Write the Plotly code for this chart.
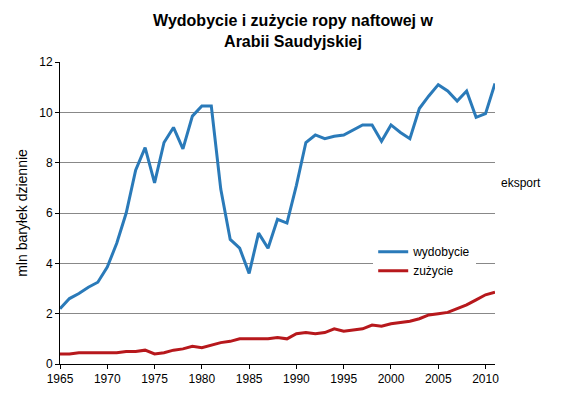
import plotly.graph_objects as go

years = list(range(1965, 2012))
wydobycie = [2.2,2.6,2.8,3.05,3.25,3.85,4.8,6.0,7.7,8.6,7.2,8.8,9.4,8.55,9.85,10.25,10.25,6.95,4.95,4.6,3.6,5.2,4.6,5.75,5.6,7.1,8.8,9.1,8.95,9.05,9.1,9.3,9.5,9.5,8.85,9.5,9.2,8.95,10.15,10.65,11.1,10.85,10.45,10.85,9.8,9.95,11.15]
zuzycie = [0.4,0.4,0.45,0.45,0.45,0.45,0.45,0.5,0.5,0.55,0.4,0.45,0.55,0.6,0.7,0.65,0.75,0.85,0.9,1.0,1.0,1.0,1.0,1.05,1.0,1.2,1.25,1.2,1.25,1.4,1.3,1.35,1.4,1.55,1.5,1.6,1.65,1.7,1.8,1.95,2.0,2.05,2.2,2.35,2.55,2.75,2.85]
xticks = list(range(1965, 2011, 5))

fig = go.Figure()
fig.add_trace(go.Scatter(x=years, y=wydobycie, mode="lines", name="wydobycie",
                         line=dict(color="#2a7ab9", width=3)))
fig.add_trace(go.Scatter(x=years, y=zuzycie, mode="lines", name="zużycie",
                         line=dict(color="#b7181c", width=3)))
fig.update_layout(
    width=570, height=403, paper_bgcolor="white", plot_bgcolor="white",
    margin=dict(l=52, r=83, t=54, b=47),
    font=dict(family="Arial, Liberation Sans", size=12, color="black"),
    title=dict(text="<b>Wydobycie i zużycie ropy naftowej w<br>Arabii Saudyjskiej</b>",
               x=0.5, xanchor="center", y=0.955, yanchor="top", font=dict(size=16)),
    xaxis=dict(range=[1965, 2011], tickvals=xticks, showgrid=False, showline=True,
               linecolor="black", ticks="outside", ticklen=4, tickcolor="black", zeroline=False),
    yaxis=dict(range=[0, 12], dtick=2, showgrid=True, gridcolor="#888888", showline=True,
               linecolor="black", ticks="outside", ticklen=4, tickcolor="black", zeroline=False,
               title=dict(text="mln baryłek dziennie", font=dict(size=14), standoff=8)),
    legend=dict(x=0.72, y=0.42, xanchor="left", yanchor="top", bgcolor="white",
                font=dict(size=12), tracegroupgap=8),
    annotations=[dict(text="eksport", x=1.01, y=0.6, xref="paper", yref="paper",
                      xanchor="left", showarrow=False, font=dict(size=12))],
)
fig.write_html("out.html")
